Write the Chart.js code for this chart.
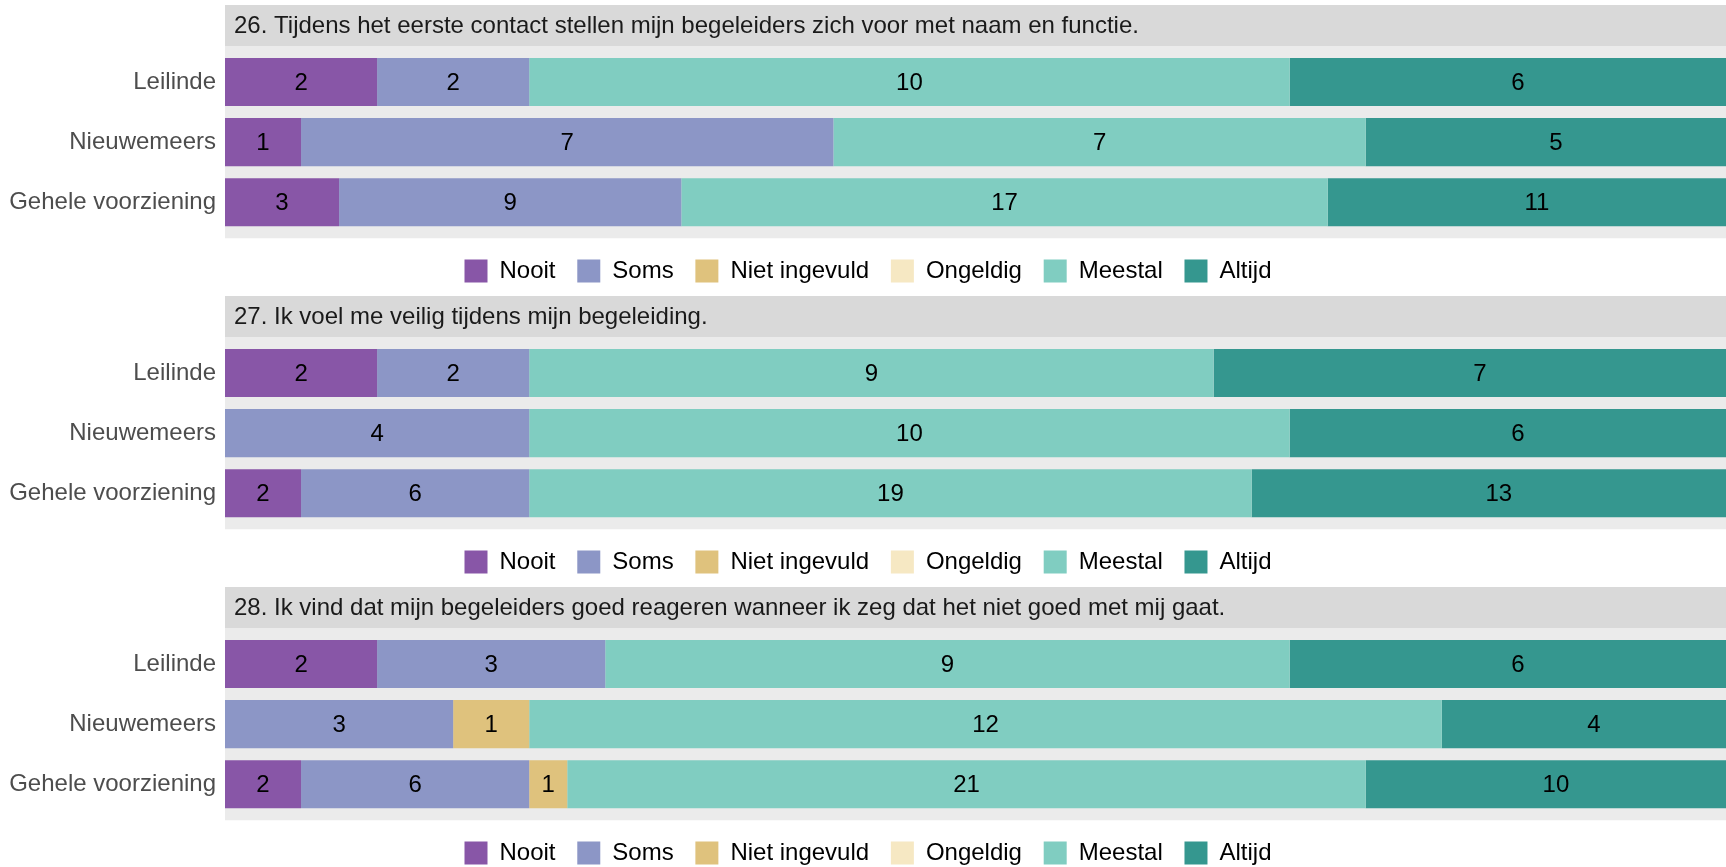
<!DOCTYPE html>
<html>
<head>
<meta charset="utf-8">
<title>Begeleiding</title>
<script src="https://cdn.jsdelivr.net/npm/chart.js"></script>
<style>
  html, body { margin: 0; padding: 0; background: #fff; overflow: hidden; }
  #wrap { position: relative; width: 1726px; height: 867px; overflow: hidden; }
  canvas { position: absolute; left: 0; }
</style>
</head>
<body>
<div id="wrap">
  <canvas id="q26" width="1736" height="293" style="top:0px"></canvas>
  <canvas id="q27" width="1736" height="293" style="top:291px"></canvas>
  <canvas id="q28" width="1736" height="293" style="top:582px"></canvas>
</div>
<script>
const answers = ['Nooit', 'Soms', 'Niet ingevuld', 'Ongeldig', 'Meestal', 'Altijd'];
const colours = ['#8856a7', '#8c96c6', '#dfc27d', '#f6e8c3', '#80cdc1', '#35978f'];
const locations = ['Leilinde', 'Nieuwemeers', 'Gehele voorziening'];

// counts per answer, in the order of locations
const q26Title = '26. Tijdens het eerste contact stellen mijn begeleiders zich voor met naam en functie.';
const q26Nooit = [2, 1, 3];
const q26Soms = [2, 7, 9];
const q26Niet = [0, 0, 0];
const q26Ongeldig = [0, 0, 0];
const q26Meestal = [10, 7, 17];
const q26Altijd = [6, 5, 11];

const q27Title = '27. Ik voel me veilig tijdens mijn begeleiding.';
const q27Nooit = [2, 0, 2];
const q27Soms = [2, 4, 6];
const q27Niet = [0, 0, 0];
const q27Ongeldig = [0, 0, 0];
const q27Meestal = [9, 10, 19];
const q27Altijd = [7, 6, 13];

const q28Title = '28. Ik vind dat mijn begeleiders goed reageren wanneer ik zeg dat het niet goed met mij gaat.';
const q28Nooit = [2, 0, 2];
const q28Soms = [3, 3, 6];
const q28Niet = [0, 1, 1];
const q28Ongeldig = [0, 0, 0];
const q28Meestal = [9, 12, 21];
const q28Altijd = [6, 4, 10];

const FONT = 'Liberation Sans, Arial, Helvetica, sans-serif';
const SIZE = 24;

// the original picture is cut off on the right: 100% lies a bit past the edge
const AXIS_LEFT = 225;
const FULL_WIDTH = 1521;

// grey strip with the question + grey panel behind the bars (ggplot facet look)
const facetPlugin = {
  id: 'facet',
  beforeDraw(chart, args, opts) {
    const { ctx, chartArea } = chart;
    const band = (chartArea.bottom - chartArea.top) / locations.length;
    const pad = band * 0.1;
    const top = chartArea.top - pad;
    const bottom = chartArea.bottom + pad;
    ctx.save();
    ctx.fillStyle = '#ebebeb';
    ctx.fillRect(chartArea.left, top, chart.width - chartArea.left, bottom - top);
    ctx.fillStyle = '#d9d9d9';
    ctx.fillRect(chartArea.left, top - 41, chart.width - chartArea.left, 41);
    ctx.fillStyle = '#1a1a1a';
    ctx.font = SIZE + 'px ' + FONT;
    ctx.textBaseline = 'middle';
    ctx.textAlign = 'left';
    ctx.fillText(opts.text, chartArea.left + 9, top - 20);
    ctx.restore();
  }
};

// counts written in the middle of every segment
const countLabels = {
  id: 'countLabels',
  afterDatasetsDraw(chart) {
    const ctx = chart.ctx;
    ctx.save();
    ctx.fillStyle = '#000';
    ctx.font = SIZE + 'px ' + FONT;
    ctx.textAlign = 'center';
    ctx.textBaseline = 'middle';
    chart.data.datasets.forEach((ds, i) => {
      chart.getDatasetMeta(i).data.forEach((bar, j) => {
        const n = ds.counts[j];
        if (!n) return;
        const { x, y, base } = bar.getProps(['x', 'y', 'base'], true);
        ctx.fillText(String(n), (x + base) / 2, y + 1);
      });
    });
    ctx.restore();
  }
};

function makeChart(id, title, series) {
  const canvas = document.getElementById(id);
  const totals = locations.map((_, j) => series.reduce((s, arr) => s + arr[j], 0));
  const datasets = series.map((arr, i) => ({
    label: answers[i],
    data: arr.map((n, j) => n / totals[j] * 100),
    counts: arr,
    backgroundColor: colours[i],
    borderWidth: 0,
    barPercentage: 0.8,
    categoryPercentage: 1.0
  }));

  return new Chart(canvas, {
    type: 'bar',
    data: { labels: locations, datasets },
    options: {
      indexAxis: 'y',
      responsive: false,
      animation: false,
      devicePixelRatio: 1,
      layout: { padding: { top: 52, bottom: 0, left: 0, right: 0 } },
      scales: {
        x: {
          stacked: true,
          min: 0,
          max: 100 * (canvas.width - AXIS_LEFT) / FULL_WIDTH,
          grid: { display: false, drawTicks: false },
          border: { display: false },
          ticks: { display: false },
          afterFit(scale) { scale.height = 5; }
        },
        y: {
          stacked: true,
          grid: { display: false, drawTicks: false },
          border: { display: false },
          ticks: { color: '#4d4d4d', padding: 9, font: { family: FONT, size: SIZE } },
          afterFit(scale) { scale.width = AXIS_LEFT; }
        }
      },
      plugins: {
        facet: { text: title },
        tooltip: { enabled: false },
        legend: {
          position: 'bottom',
          labels: {
            boxWidth: 23,
            boxHeight: 23,
            padding: 21.75,
            color: '#000',
            font: { family: FONT, size: SIZE }
          }
        }
      }
    },
    plugins: [facetPlugin, countLabels]
  });
}

makeChart('q26', q26Title, [q26Nooit, q26Soms, q26Niet, q26Ongeldig, q26Meestal, q26Altijd]);
makeChart('q27', q27Title, [q27Nooit, q27Soms, q27Niet, q27Ongeldig, q27Meestal, q27Altijd]);
makeChart('q28', q28Title, [q28Nooit, q28Soms, q28Niet, q28Ongeldig, q28Meestal, q28Altijd]);
</script>
</body>
</html>
